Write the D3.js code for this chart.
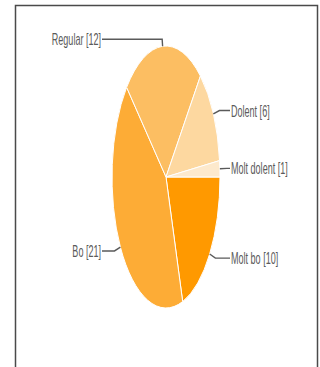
<!DOCTYPE html>
<html>
<head>
<meta charset="utf-8">
<script src="https://cdn.jsdelivr.net/npm/d3@7"></script>
<style>
  body { margin: 0; background: #fff; }
</style>
</head>
<body>
<div id="chart"></div>
<script>
// données du graphique (ordre horaire à partir de 3 h)
const categories = ["Molt bo", "Bo", "Regular", "Dolent", "Molt dolent"];
const values = [10, 21, 12, 6, 1];
const colors = ["#ff9900", "#fdac36", "#fcbe62", "#fdd8a0", "#fde9cc"];

const width = 320,
    height = 367,
    cx = 166,
    cy = 177,
    rx = 54,   // rayon horizontal (image écrasée)
    ry = 131,  // rayon vertical
    leadOut = 7,
    labelGap = 64,
    textScale = 0.565;

const svg = d3.select("#chart").append("svg")
    .attr("width", width)
    .attr("height", height);

// cadre
svg.append("rect")
    .attr("x", 15.5)
    .attr("y", 5.5)
    .attr("width", 302)
    .attr("height", 400)
    .style("fill", "none")
    .style("stroke", "#4a4a4a")
    .style("stroke-width", 1.5);

const pie = d3.pie()
    .sort(null)
    .value(d => d)
    .startAngle(Math.PI / 2)
    .endAngle(Math.PI / 2 + 2 * Math.PI);

const arcs = pie(values);

const arc = d3.arc()
    .innerRadius(0)
    .outerRadius(ry);

// le camembert, écrasé horizontalement
const pieGroup = svg.append("g")
    .attr("transform", `translate(${cx},${cy}) scale(${rx / ry},1)`);

pieGroup.selectAll("path")
    .data(arcs)
    .enter()
    .append("path")
    .attr("d", arc)
    .style("fill", (d, i) => colors[i])
    .style("stroke", "#fff")
    .style("stroke-width", 1)
    .attr("vector-effect", "non-scaling-stroke");

// étiquettes avec lignes de rappel
const labels = svg.append("g");

arcs.forEach(function(d, i) {
    const a = (d.startAngle + d.endAngle) / 2;
    const sx = Math.sin(a), sy = -Math.cos(a);
    const p0 = [cx + rx * sx, cy + ry * sy];
    const p1 = [cx + (rx + leadOut) * sx, cy + (ry + leadOut) * sy];
    const right = sx >= 0;
    const p2 = [cx + (right ? labelGap : -labelGap), p1[1]];

    labels.append("polyline")
        .attr("points", [p0, p1, p2].map(p => p.join(",")).join(" "))
        .style("fill", "none")
        .style("stroke", "#5a5a5a")
        .style("stroke-width", 1.4);

    labels.append("text")
        .attr("transform", `translate(${p2[0] + (right ? 1 : -1)},${p2[1] + 6}) scale(${textScale},1)`)
        .attr("text-anchor", right ? "start" : "end")
        .style("font-family", "'Liberation Sans', Arial, sans-serif")
        .style("font-size", "16px")
        .style("fill", "#5a5a5a")
        .text(`${categories[i]} [${values[i]}]`);
});
</script>
</body>
</html>
